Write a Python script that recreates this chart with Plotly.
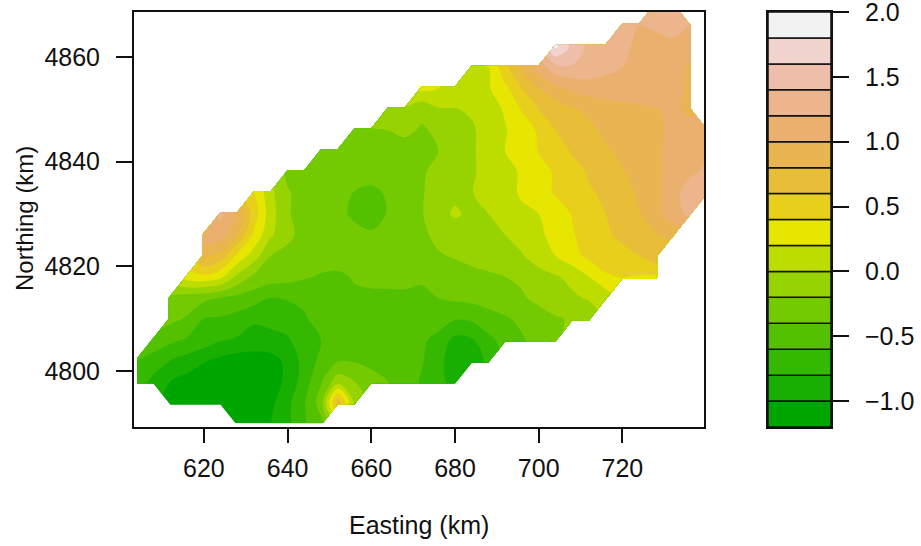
import plotly.graph_objects as go

NX0, DX, NCOLS = 604, 4, 35
easting = [NX0 + DX * i for i in range(NCOLS)]
northing = [4790 + 4 * j for j in range(21)]
levels = [-1.2, -1.0, -0.8, -0.6, -0.4, -0.2, 0.0, 0.2, 0.4, 0.6, 0.8, 1.0, 1.2, 1.4, 1.6, 1.8, 2.0]
colors = ["#00A600", "#19AF00", "#35B800", "#53C100", "#74CA00", "#97D300", "#BDDC00", "#E6E600",
          "#E8CF1C", "#E8BE38", "#E9B452", "#EBB06E", "#ECB58B", "#EEBEAA", "#F0D3CC", "#F2F2F2"]
x_ticks = [620, 640, 660, 680, 700, 720]
y_ticks = [4800, 4820, 4840, 4860]
bar_ticks = [-1.0, -0.5, 0.0, 0.5, 1.0, 1.5, 2.0]
bar_labels = ["\u22121.0", "\u22120.5", "0.0", "0.5", "1.0", "1.5", "2.0"]

row_starts = [628, 612, 604, 604, 608, 612, 612, 616, 620, 620, 624, 632, 640, 648, 656, 664, 672, 684, 704, 720, 728]
row_values = [
    [-1.15, -1.12, -1.0, -0.85, -0.62, -0.45],
    [-1.08, -1.15, -1.17, -1.17, -1.17, -1.15, -1.05, -0.85, -0.62, -0.3, 0.75, -0.05],
    [-0.7, -0.85, -1.0, -1.08, -1.12, -1.15, -1.17, -1.16, -1.1, -0.95, -0.7, -0.42, -0.08, -0.2, -0.32, -0.4, -0.5, -0.62, -0.72, -0.9],
    [-0.6, -0.7, -0.8, -0.88, -0.98, -1.05, -1.1, -1.12, -1.08, -0.95, -0.72, -0.55, -0.42, -0.42, -0.46, -0.52, -0.56, -0.58, -0.72, -0.95, -0.92, -0.75],
    [-0.45, -0.55, -0.62, -0.68, -0.78, -0.82, -0.85, -0.85, -0.82, -0.7, -0.6, -0.55, -0.52, -0.5, -0.5, -0.5, -0.55, -0.68, -0.85, -0.82, -0.65, -0.52, -0.42, -0.32, -0.22],
    [-0.35, -0.42, -0.6, -0.62, -0.68, -0.78, -0.75, -0.72, -0.62, -0.53, -0.5, -0.48, -0.48, -0.48, -0.48, -0.46, -0.47, -0.58, -0.56, -0.47, -0.42, -0.36, -0.28, -0.22, -0.18, -0.12],
    [-0.25, -0.3, -0.35, -0.4, -0.45, -0.5, -0.6, -0.58, -0.56, -0.47, -0.45, -0.44, -0.44, -0.43, -0.42, -0.43, -0.4, -0.36, -0.34, -0.32, -0.28, -0.22, -0.15, -0.08, -0.03, 0.02, 0.08],
    [0.3, 0.35, 0.25, -0.05, -0.25, -0.3, -0.33, -0.38, -0.42, -0.44, -0.38, -0.35, -0.36, -0.37, -0.38, -0.36, -0.32, -0.28, -0.24, -0.2, -0.17, -0.1, -0.02, 0.05, 0.2, 0.37, 0.41, 0.38, 0.38],
    [0.85, 0.72, 0.35, 0.1, -0.2, -0.26, -0.28, -0.3, -0.3, -0.3, -0.3, -0.3, -0.3, -0.3, -0.22, -0.18, -0.12, -0.08, -0.03, -0.02, 0.12, 0.2, 0.33, 0.45, 0.52, 0.56, 0.6, 0.75],
    [1.1, 1.1, 0.8, 0.35, 0.03, -0.15, -0.27, -0.3, -0.3, -0.32, -0.36, -0.34, -0.3, -0.24, -0.15, -0.08, -0.05, -0.02, 0.0, 0.1, 0.15, 0.28, 0.38, 0.5, 0.58, 0.63, 0.7, 0.78, 0.85],
    [1.25, 0.95, 0.5, 0.08, -0.18, -0.28, -0.3, -0.33, -0.45, -0.52, -0.38, -0.28, -0.22, -0.05, 0.02, -0.03, 0.0, 0.12, 0.17, 0.2, 0.3, 0.41, 0.5, 0.6, 0.68, 0.78, 0.95, 1.1, 1.25],
    [0.4, 0.05, -0.18, -0.28, -0.3, -0.33, -0.41, -0.46, -0.37, -0.3, -0.22, -0.1, -0.03, -0.01, 0.1, 0.15, 0.22, 0.32, 0.42, 0.5, 0.58, 0.63, 0.68, 0.85, 0.95, 1.1, 1.32, 1.35],
    [-0.25, -0.3, -0.3, -0.29, -0.3, -0.3, -0.28, -0.27, -0.23, -0.13, -0.05, -0.03, 0.08, 0.15, 0.22, 0.3, 0.43, 0.52, 0.62, 0.7, 0.78, 0.88, 0.95, 1.08, 1.15, 1.25],
    [-0.3, -0.28, -0.28, -0.28, -0.28, -0.28, -0.26, -0.2, -0.1, -0.03, 0.1, 0.2, 0.28, 0.41, 0.5, 0.62, 0.67, 0.77, 0.85, 0.92, 0.97, 1.05, 1.1, 1.15],
    [-0.22, -0.21, -0.2, -0.16, -0.22, -0.17, -0.1, -0.03, 0.1, 0.19, 0.28, 0.43, 0.6, 0.66, 0.75, 0.85, 0.93, 0.95, 0.98, 1.02, 1.1, 1.12],
    [-0.05, -0.02, -0.15, -0.02, -0.01, 0.03, 0.12, 0.22, 0.42, 0.6, 0.68, 0.78, 0.85, 0.9, 0.94, 0.96, 0.98, 1.05, 0.95],
    [0.25, 0.2, 0.15, 0.16, 0.18, 0.35, 0.6, 0.8, 0.95, 1.03, 1.1, 1.11, 1.12, 1.14, 1.15, 1.12, 0.95],
    [0.18, 0.2, 0.55, 0.85, 1.1, 1.32, 1.38, 1.32, 1.25, 1.2, 1.17, 1.15, 1.12, 0.97],
    [1.85, 1.55, 1.35, 1.28, 1.22, 1.18, 1.15, 1.12, 1.1],
    [1.25, 1.2, 1.22, 1.32, 1.2],
    [1.33, 1.38],
]

z = []
for start, vals in zip(row_starts, row_values):
    lead = (start - NX0) // DX
    z.append([None] * lead + vals + [None] * (NCOLS - lead - len(vals)))

n = len(colors)
colorscale = []
for i, c in enumerate(colors):
    colorscale.append([i / n, c])
    colorscale.append([(i + 1) / n, c])

W, H = 921, 546
def fx(px):
    return px / W
def fy(py):
    return 1 - py / H

fig = go.Figure()
fig.add_trace(go.Contour(
    x=easting, y=northing, z=z, zmin=levels[0], zmax=levels[-1], colorscale=colorscale,
    autocontour=False, contours=dict(start=levels[0], end=levels[-1], size=0.2, coloring="fill", showlines=False),
    line=dict(width=0), showscale=False, connectgaps=False, hoverongaps=False, xaxis="x", yaxis="y"))
fig.add_trace(go.Bar(
    x=[0.5] * n, y=[levels[i + 1] - levels[i] for i in range(n)], base=levels[:-1], width=1,
    marker=dict(color=colors, line=dict(color="#111111", width=1.5)), xaxis="x2", yaxis="y2", showlegend=False))

font = dict(family="Liberation Sans, Arial, sans-serif", size=25, color="#111111")
font_rot = dict(family="Liberation Sans, Arial, sans-serif", size=24, color="#111111")
common = dict(showgrid=False, zeroline=False, showline=True, linecolor="#111111", linewidth=2, mirror=True,
              ticks="outside", tickcolor="#111111", tickwidth=2, tickfont=font, automargin=False)
fig.update_layout(
    width=W, height=H, margin=dict(l=0, r=0, t=0, b=0, autoexpand=False), paper_bgcolor="white", plot_bgcolor="white",
    showlegend=False, barmode="overlay", font=font,
    xaxis=dict(domain=[fx(134), fx(704)], range=[603.3, 739.5], tickvals=x_ticks, ticklen=14, ticklabelstandoff=4, **common),
    yaxis=dict(domain=[fy(427), fy(12)], range=[4789.3, 4868.6], tickvals=y_ticks, ticklen=16, ticklabelstandoff=11, **common),
    xaxis2=dict(domain=[fx(768), fx(831)], range=[0, 1], showticklabels=False, ticks="", showgrid=False, zeroline=False,
                showline=True, linecolor="#111111", linewidth=2, mirror=True, automargin=False),
    yaxis2=dict(domain=[fy(427), fy(12)], range=[levels[0], levels[-1]], anchor="x2", side="right",
                tickvals=bar_ticks, ticktext=bar_labels, ticklen=16, ticklabelstandoff=11,
                ticklabeloverflow="allow", **common),
    annotations=[
        dict(text="Easting (km)", x=fx(419), y=fy(525), xref="paper", yref="paper", xanchor="center", yanchor="middle",
             showarrow=False, font=font),
        dict(text="Northing (km)", x=fx(24), y=fy(219), xref="paper", yref="paper", xanchor="center", yanchor="middle",
             showarrow=False, font=font_rot, textangle=-90),
    ],
)
fig.write_html("out.html", config={"displayModeBar": False}, post_script="document.body.style.margin='0px';")
